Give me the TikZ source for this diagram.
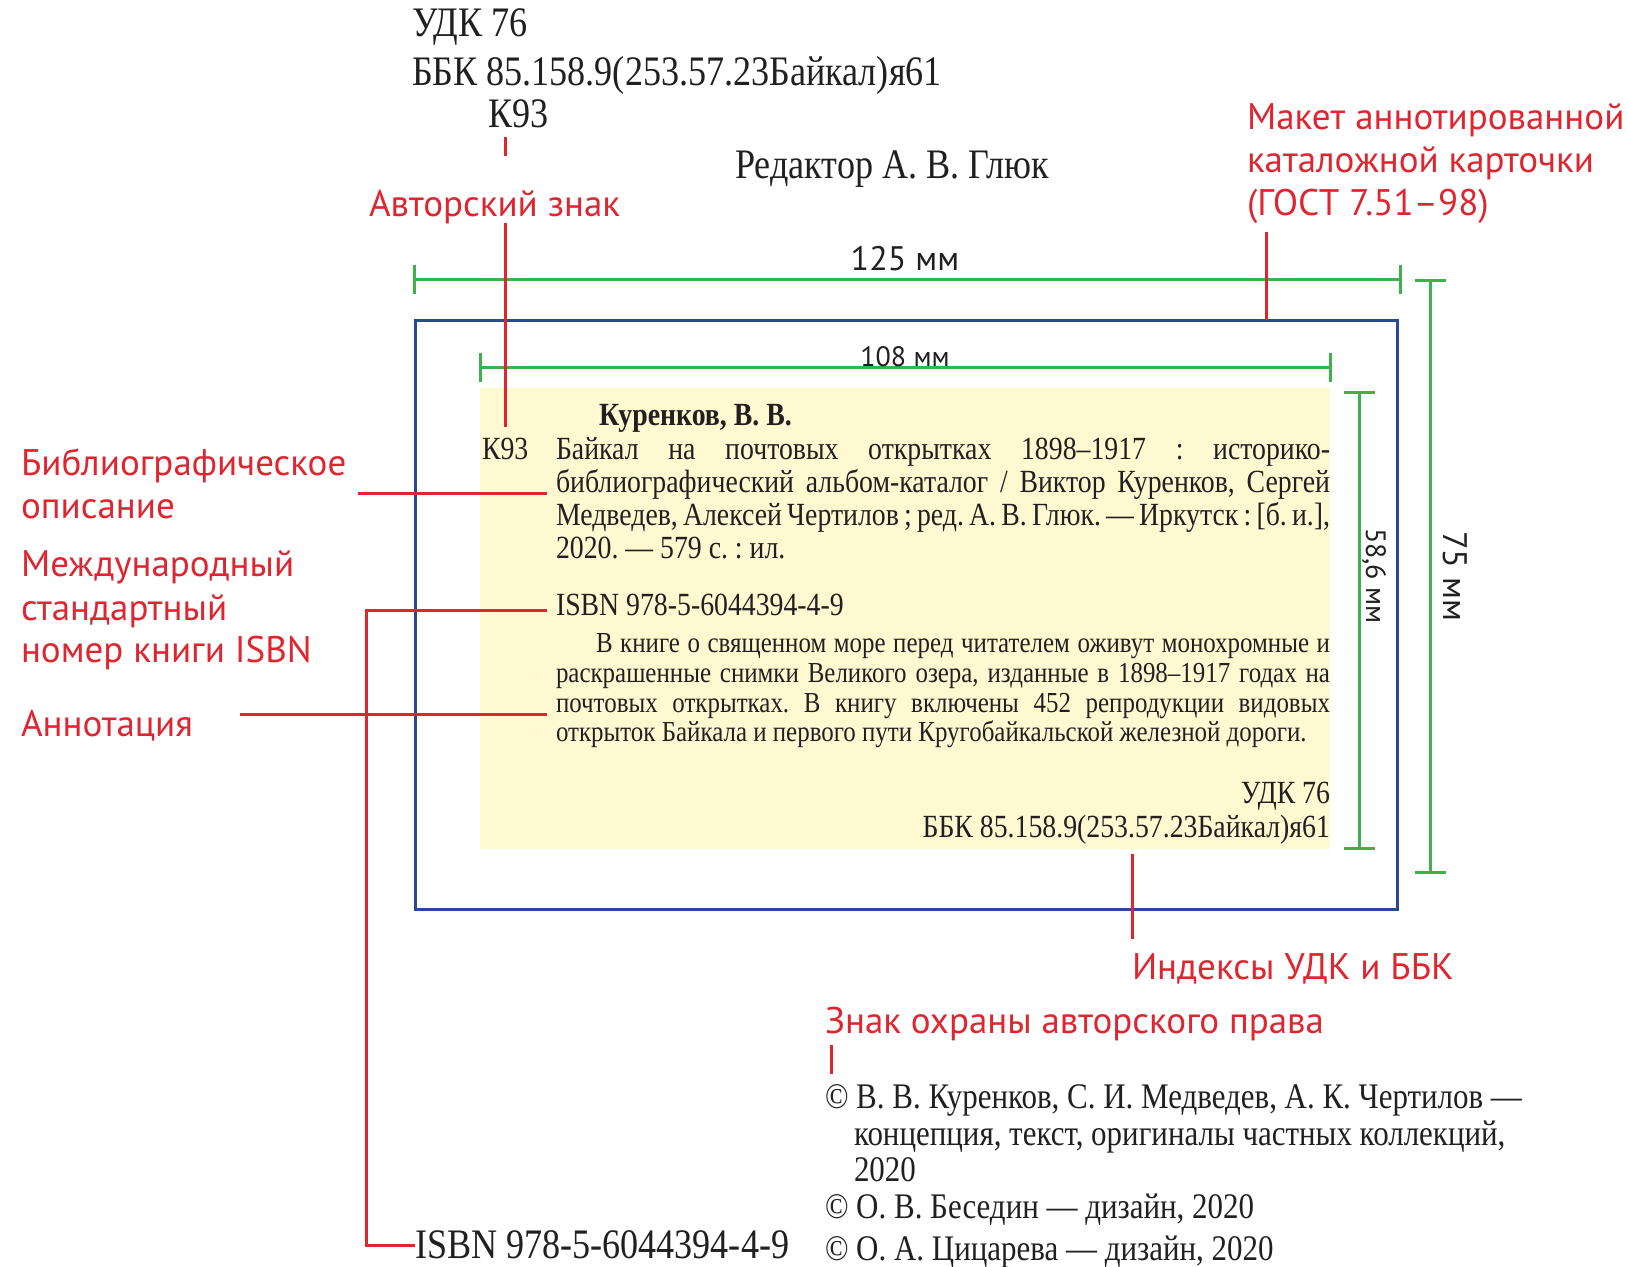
\documentclass[tikz,border=0pt]{standalone}
\usepackage{fontspec}
\newfontfamily\serifA{Liberation Serif}[FakeStretch=0.86]
\newfontfamily\labA{PT Sans}
\definecolor{myred}{RGB}{222,38,48}
\definecolor{mygreen}{RGB}{62,176,76}
\definecolor{myblue}{RGB}{42,72,152}
\definecolor{mycream}{RGB}{254,249,208}
\definecolor{mytext}{RGB}{35,31,32}
\frenchspacing
\newcommand\setfs[1]{\fontsize{#1}{#1}\selectfont}
\newcommand\jline[2]{\makebox[#1][s]{\spaceskip=0.25em plus 3em minus 0.12em \xspaceskip=\spaceskip #2}}
\tikzset{
  base/.style={inner sep=0pt, outer sep=0pt, anchor=base west, text=mytext},
  topf/.style={base, font=\serifA\setfs{42}},
  cardf/.style={base, font=\serifA\setfs{32.3}},
  annf/.style={base, font=\serifA\setfs{29}},
  copyf/.style={base, font=\serifA\setfs{36}},
  lab/.style={inner sep=0pt, outer sep=0pt, anchor=base west, text=myred, font=\labA\setfs{37}},
  dimf/.style={inner sep=0pt, outer sep=0pt, text=mytext, font=\labA\setfs{34}},
  dims/.style={inner sep=0pt, outer sep=0pt, text=mytext, font=\labA\setfs{28}},
  redl/.style={draw=myred, line width=3pt},
  grn/.style={draw=mygreen, line width=3pt},
  bluel/.style={draw=myblue, line width=3pt}
}
\begin{document}
\begin{tikzpicture}[x=1pt,y=-1pt]
\useasboundingbox (0,0) rectangle (1627,1266);
% card
\fill[mycream] (480,388) rectangle (1330,849);
\draw[bluel] (415,320) rectangle (1397,909);
% dimension lines
\draw[grn] (414,279) -- (1400,279);
\draw[grn] (414,265) -- (414,294);
\draw[grn] (1400,265) -- (1400,294);
\draw[grn] (480,367) -- (1330,367);
\draw[grn] (480,353) -- (480,382);
\draw[grn] (1330,353) -- (1330,382);
\draw[grn] (1430,280) -- (1430,872);
\draw[grn] (1415,280) -- (1446,280);
\draw[grn] (1415,872) -- (1446,872);
\draw[grn] (1359,392) -- (1359,848);
\draw[grn] (1344,392) -- (1375,392);
\draw[grn] (1344,848) -- (1375,848);
\node[dimf, anchor=base] (d125) at (905,270) {125 мм};
\node[dims, anchor=base] (d108) at (905,366) {108 мм};
\node[dimf, rotate=-90] (d75) at (1455,576) {75 мм};
\node[dims, rotate=-90] (d586) at (1374,576) {58,6 мм};
% top texts
\node[topf] (udk) at (412,36) {УДК 76};
\node[topf] (bbk) at (412,85) {ББК 85.158.9(253.57.23Байкал)я61};
\node[topf] (k93) at (488,127) {К93};
\node[topf] (redak) at (735,178) {Редактор А. В. Глюк};
% card texts
\node[cardf, font=\serifA\bfseries\setfs{32.3}] (auth) at (599,425) {Куренков, В. В.};
\node[cardf] (ck93) at (482,459) {К93};
\node[cardf] (b1) at (556,459) {\jline{774pt}{Байкал на почтовых открытках 1898–1917 : историко-}};
\node[cardf] (b2) at (556,492) {\jline{774pt}{библиографический альбом-каталог / Виктор Куренков, Сергей}};
\node[cardf] (b3) at (556,525) {\jline{774pt}{Медведев, Алексей Чертилов ; ред. А. В. Глюк. — Иркутск : [б. и.],}};
\node[cardf] (b4) at (556,558) {2020. — 579 с. : ил.};
\node[cardf] (cisbn) at (556,615) {ISBN 978-5-6044394-4-9};
\node[annf] (a1) at (596,652) {\jline{734pt}{В книге о священном море перед читателем оживут монохромные и}};
\node[annf] (a2) at (556,682) {\jline{774pt}{раскрашенные снимки Великого озера, изданные в 1898–1917 годах на}};
\node[annf] (a3) at (556,712) {\jline{774pt}{почтовых открытках. В книгу включены 452 репродукции видовых}};
\node[annf] (a4) at (556,741) {открыток Байкала и первого пути Кругобайкальской железной дороги.};
\node[cardf, anchor=base east] (cudk) at (1330,803) {УДК 76};
\node[cardf, anchor=base east] (cbbk) at (1330,837) {ББК 85.158.9(253.57.23Байкал)я61};
% copyright block
\node[copyf] (cp1) at (825,1108) {© В. В. Куренков, С. И. Медведев, А. К. Чертилов —};
\node[copyf] (cp2) at (854,1145) {концепция, текст, оригиналы частных коллекций,};
\node[copyf] (cp3) at (854,1181) {2020};
\node[copyf] (cp4) at (825,1218) {© О. В. Беседин — дизайн, 2020};
\node[copyf] (cp5) at (825,1260) {© О. А. Цицарева — дизайн, 2020};
\node[base, font=\serifA\setfs{42}] (bisbn) at (415,1258) {ISBN 978-5-6044394-4-9};
% red labels
\node[lab] (avt) at (369,216) {Авторский знак};
\node[lab] (mak1) at (1247,129) {Макет аннотированной};
\node[lab] (mak2) at (1247,172) {каталожной карточки};
\node[lab] (mak3) at (1247,215) {(ГОСТ 7.51–98)};
\node[lab] (bib1) at (21,475) {Библиографическое};
\node[lab] (bib2) at (21,518) {описание};
\node[lab] (mez1) at (21,576) {Международный};
\node[lab] (mez2) at (21,620) {стандартный};
\node[lab] (mez3) at (21,662) {номер книги ISBN};
\node[lab] (ann) at (21,736) {Аннотация};
\node[lab] (ind) at (1132,979) {Индексы УДК и ББК};
\node[lab] (znak) at (825,1033) {Знак охраны авторского права};
% red connectors
\coordinate (k1) at (505,137);
\coordinate (k2) at (505,156);
\coordinate (k3) at (505,223);
\coordinate (k4) at (505,427);
\draw[redl] (k1) -- (k2);
\draw[redl] (k3) -- (k4);
\coordinate (m1) at (1266,232);
\coordinate (m2) at (1266,320);
\draw[redl] (m1) -- (m2);
\coordinate (bl) at (358,493);
\coordinate (br) at (547,493);
\draw[redl] (bl) -- (br);
\coordinate (ir) at (547,610);
\coordinate (ib) at (415,1245);
\draw[redl] (ir) -- (366,610) |- (ib);
\coordinate (al) at (240,714);
\coordinate (ar) at (547,714);
\draw[redl] (al) -- (ar);
\coordinate (x1) at (1132,854);
\coordinate (x2) at (1132,939);
\draw[redl] (x1) -- (x2);
\coordinate (z1) at (831,1045);
\coordinate (z2) at (831,1074);
\draw[redl] (z1) -- (z2);
\end{tikzpicture}
\end{document}
